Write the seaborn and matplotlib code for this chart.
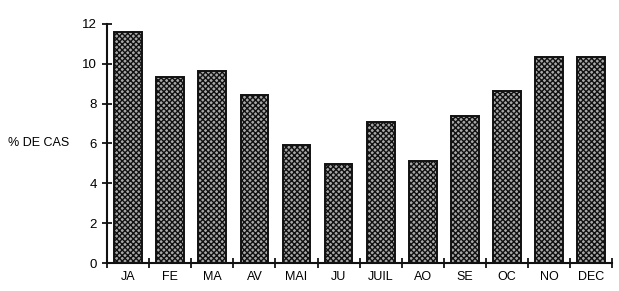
import matplotlib
matplotlib.use("Agg")
import matplotlib.pyplot as plt
import seaborn as sns
import pandas as pd

months = ["JA", "FE", "MA", "AV", "MAI", "JU", "JUIL", "AO", "SE", "OC", "NO", "DEC"]
pct_cases = [11.6, 9.35, 9.65, 8.45, 5.9, 4.97, 7.08, 5.1, 7.38, 8.65, 10.35, 10.35]
y_ticks = [0, 2, 4, 6, 8, 10, 12]

sns.set_style("white")
plt.rcParams['font.family'] = ['Liberation Sans', 'DejaVu Sans']
plt.rcParams['hatch.linewidth'] = 1.0
plt.rcParams['hatch.color'] = '#111111'
plt.rcParams['text.color'] = 'black'
plt.rcParams['xtick.color'] = 'black'
plt.rcParams['ytick.color'] = 'black'

df = pd.DataFrame({"mois": months, "pct": pct_cases})

fig = plt.figure(figsize=(6.19, 2.91), dpi=100)
ax = fig.add_axes([0.173, 0.096, 0.816, 0.822])

sns.barplot(data=df, x="mois", y="pct", ax=ax, color="#a8a8a8", width=0.66,
            edgecolor="#111111", linewidth=1.4, saturation=1)
for p in ax.patches:
    p.set_hatch("xxxxxx")

ax.set_xlim(-0.5, 11.5)
ax.set_ylim(0, 12)
ax.set_yticks(y_ticks)
ax.set_yticklabels([str(t) for t in y_ticks], fontsize=9.5)
ax.set_xticks(range(len(months)))
ax.set_xticklabels(months, fontsize=9)
ax.tick_params(axis='x', length=0, pad=6, labelcolor='black')
ax.tick_params(axis='y', direction='inout', length=7, width=1.2, pad=4, left=True, labelcolor='black')
ax.set_xticks([i - 0.5 for i in range(len(months) + 1)], minor=True)
ax.tick_params(axis='x', which='minor', direction='inout', length=7, width=1.2, bottom=True)
ax.set_xlabel("")
ax.set_ylabel("")
for s in ["top", "right"]:
    ax.spines[s].set_visible(False)
for s in ["left", "bottom"]:
    ax.spines[s].set_linewidth(1.5)
    ax.spines[s].set_color("#111111")

fig.text(0.013, 0.508, "% DE CAS", fontsize=9, ha='left', va='center', color='black')

fig.savefig("out.png", dpi=100)
